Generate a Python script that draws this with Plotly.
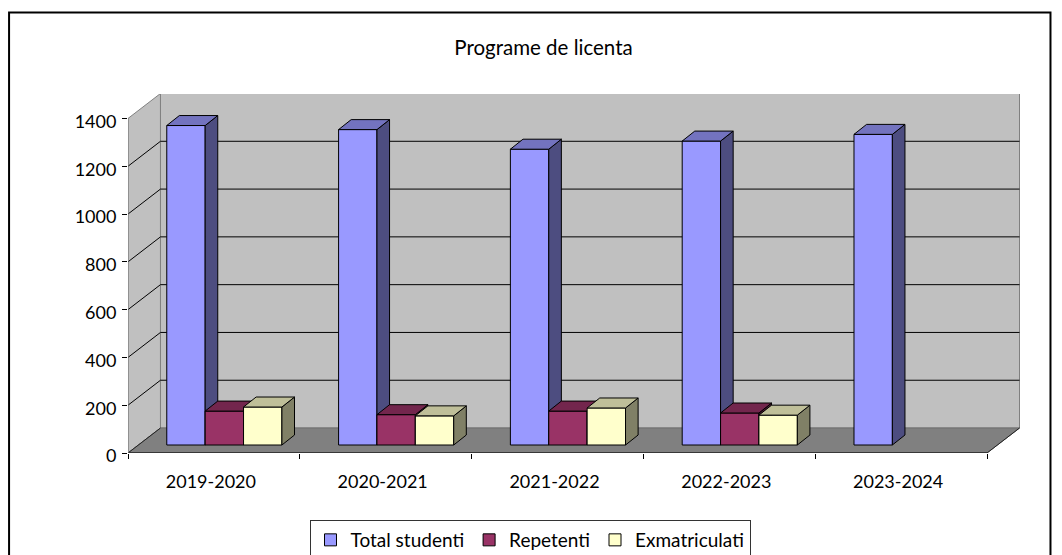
import plotly.graph_objects as go

categories = ["2019-2020", "2020-2021", "2021-2022", "2022-2023", "2023-2024"]
total_studenti = [1337, 1320, 1238, 1272, 1300]
repetenti = [142, 127, 142, 134, None]
exmatriculati = [159, 122, 155, 125, None]
series_names = ["Total studenti", "Repetenti", "Exmatriculati"]
tick_values = [0, 200, 400, 600, 800, 1000, 1200, 1400]

front_colors = ["#9999FF", "#993366", "#FFFFCC"]
top_colors = ["#7373BF", "#73264D", "#BFBF99"]
side_colors = ["#4D4D80", "#4D1A33", "#808066"]

W, H = 1062, 555
L, R, T, B = 127.5, 1021, 93.5, 453
BAND = 171.9            # px per category
PX_PER_UNIT = 335 / 1400
XMAX = (R - L) / BAND
YMAX = (B - T) / PX_PER_UNIT
DX = 32.5 / BAND        # wall depth, x units
DY = 25 / PX_PER_UNIT   # wall depth, y units
BAR_W = 38.4 / BAND
BAR_START = 38.8 / BAND
D0 = 0.32               # bar front position within the floor depth
bx = 12.6 / BAND
by = 10 / PX_PER_UNIT
base_y = D0 * DY

fig = go.Figure()
values = [total_studenti, repetenti, exmatriculati]

for s, (name, vals) in enumerate(zip(series_names, values)):
    xs, ys = [], []
    xt, yt = [], []
    for i, v in enumerate(vals):
        if v is None:
            continue
        x0 = i + BAR_START + s * BAR_W
        x1 = x0 + BAR_W
        top = base_y + v
        xs += [x1, x1 + bx, x1 + bx, x1, x1, None]
        ys += [base_y, base_y + by, top + by, top, base_y, None]
        xt += [x0, x0 + bx, x1 + bx, x1, x0, None]
        yt += [top, top + by, top + by, top, top, None]
    z = s + 1
    fig.add_trace(go.Bar(
        x=[i + BAR_START + s * BAR_W for i in range(len(vals))],
        y=vals, base=base_y, width=BAR_W, offset=0, name=name, zorder=z,
        marker=dict(color=front_colors[s], line=dict(color="black", width=1)),
        hoverinfo="skip",
    ))
    for xp, yp, c in ((xs, ys, side_colors[s]), (xt, yt, top_colors[s])):
        fig.add_trace(go.Scatter(
            x=xp, y=yp, mode="lines", fill="toself", fillcolor=c, zorder=z,
            line=dict(color="black", width=1), showlegend=False, hoverinfo="skip",
        ))

shapes = []
def poly(pts, fill, line="#808080", width=1):
    path = "M" + "L".join(f"{x},{y}" for x, y in pts) + "Z"
    shapes.append(dict(type="path", path=path, xref="x", yref="y", layer="below",
                       fillcolor=fill, line=dict(color=line, width=width)))
def seg(x0, y0, x1, y1, color="black", width=1):
    shapes.append(dict(type="line", x0=x0, y0=y0, x1=x1, y1=y1, xref="x", yref="y",
                       layer="below", line=dict(color=color, width=width)))

n = len(categories)
top_val = tick_values[-1]
poly([(0, 0), (DX, DY), (DX, DY + top_val), (0, top_val)], "#C0C0C0")
poly([(DX, DY), (n + DX, DY), (n + DX, DY + top_val), (DX, DY + top_val)], "#C0C0C0")
poly([(0, 0), (n, 0), (n + DX, DY), (DX, DY)], "#808080", line="#6E6E6E")
for t in tick_values[1:-1]:
    seg(0, t, DX, DY + t)
    seg(DX, DY + t, n + DX, DY + t)
seg(0, 0, DX, DY, color="#222222")
seg(n, 0, n + DX, DY, color="#222222")
seg(0, 0, n, 0, color="#222222", width=1.5)
seg(0, 0, 0, top_val, color="#808080")

# outer chart frame, in pixels mapped to paper coordinates
def px(x): return (x - L) / (R - L)
def py(y): return (B - y) / (B - T)
shapes.append(dict(type="rect", xref="paper", yref="paper", layer="below",
                   x0=px(8.5), x1=px(1050.5), y0=py(600), y1=py(12),
                   line=dict(color="black", width=2), fillcolor="rgba(0,0,0,0)"))

fig.update_layout(
    width=W, height=H, autosize=False,
    margin=dict(l=L, r=W - R, t=T, b=H - B, pad=0),
    paper_bgcolor="white", plot_bgcolor="rgba(0,0,0,0)",
    font=dict(family="Lato, Open Sans, sans-serif", size=18, color="black"),
    shapes=shapes, barmode="overlay", showlegend=True,
    title=dict(text="Programe de licenta", x=543.5 / W, xanchor="center",
               y=1 - 48 / H, yanchor="middle", font=dict(size=20.5)),
    legend=dict(orientation="h", x=530 / W, xref="container", xanchor="center",
                y=1 - 540 / H, yref="container", yanchor="middle",
                bgcolor="white", bordercolor="#333333", borderwidth=1,
                font=dict(size=19), itemwidth=30, traceorder="normal"),
    xaxis=dict(range=[0, XMAX], showgrid=False, zeroline=False, showline=False,
               tickmode="array", tickvals=[i + 0.5 for i in range(n)], ticktext=categories,
               ticks="", ticklabelstandoff=16, ticklabelshift=-3,
               minor=dict(tickmode="array", tickvals=list(range(n + 1)), ticks="outside",
                          ticklen=5, tickcolor="black", tickwidth=1, showgrid=False)),
    yaxis=dict(range=[0, YMAX], showgrid=False, zeroline=False, showline=False,
               tickmode="array", tickvals=tick_values, ticks="outside", ticklen=5,
               tickcolor="black", tickwidth=1, ticklabelstandoff=2, ticklabelshift=3),
)

fig.write_html("out.html", post_script="document.body.style.margin='0';", config={"displayModeBar": False})
